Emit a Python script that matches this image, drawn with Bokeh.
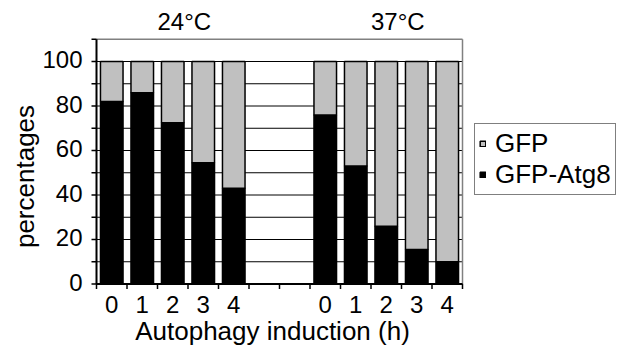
import math
from bokeh.plotting import figure
from bokeh.models import ColumnDataSource, Legend, LegendItem, Range1d
from bokeh.core.properties import value
from bokeh.embed import file_html
from bokeh.resources import INLINE

# ---------------- data ----------------
hours = ["0", "1", "2", "3", "4"]
temps = ["24°C", "37°C"]
atg8_24 = [82, 86, 72.5, 54.5, 43]
atg8_37 = [76, 53, 26, 15.5, 10]
series_names = ["GFP", "GFP-Atg8"]
x_title = "Autophagy induction (h)"
y_title = "percentages"
y_major = [0, 20, 40, 60, 80, 100]
y_minor = [0, 10, 20, 30, 40, 50, 60, 70, 80, 90, 100, 110]
y_grid = [10, 20, 30, 40, 50, 60, 70, 80, 90, 100]
y_max = 110

# ---------------- layout (pixels) ----------------
FONT = value("Liberation Sans")
W, H = 619, 349
PL, PR, PT, PB = 96, 462, 38.75, 283.5
group_start = [0, 7]
n_slots = 12
sw = (PR - PL) / n_slots
yu = (PB - PT) / y_max


def X(px):
    return (px - PL) / sw


def Y(py):
    return (PB - py) / yu


xs, atg8, gfp, xlab = [], [], [], []
for g, vals in enumerate([atg8_24, atg8_37]):
    for i, v in enumerate(vals):
        xs.append(group_start[g] + i + 0.5)
        atg8.append(v)
        gfp.append(100 - v)
        xlab.append(hours[i])

src = ColumnDataSource(dict(x=xs, atg8=atg8, gfp=gfp))

p = figure(width=W, height=H, output_backend="svg", toolbar_location=None,
           x_range=Range1d(X(0), X(W)), y_range=Range1d(Y(H), Y(0)),
           x_axis_type=None, y_axis_type=None, min_border=0)
p.grid.visible = False
p.outline_line_color = None
p.background_fill_color = "white"
p.border_fill_color = "white"

# grid lines
p.segment(x0=[0] * len(y_grid), x1=[n_slots] * len(y_grid), y0=y_grid, y1=y_grid,
          line_color="black", line_width=1)
# grey top / right border of plot area
p.segment(x0=[0, n_slots], x1=[n_slots, n_slots], y0=[y_max, 0], y1=[y_max, y_max],
          line_color="#808080", line_width=1.5)

# bars
rs = p.vbar_stack(["atg8", "gfp"], x="x", width=0.74, color=["black", "#c0c0c0"],
                  line_color="black", line_width=1.5, source=src)

# axis lines
p.segment(x0=[0, 0], x1=[0, n_slots], y0=[0, 0], y1=[y_max, 0],
          line_color="black", line_width=2)

# ticks
tick_len = 5
p.segment(x0=[0] * len(y_minor), x1=[X(PL - tick_len)] * len(y_minor), y0=y_minor, y1=y_minor,
          line_color="black", line_width=1.5)
xb = list(range(0, n_slots + 1))
p.segment(x0=xb, x1=xb, y0=[0] * len(xb), y1=[Y(PB + tick_len)] * len(xb),
          line_color="black", line_width=1.5)

# tick labels
lift = 2 / yu
p.text(x=[X(PL - 14)] * len(y_major), y=[v + lift for v in y_major], text=[str(v) for v in y_major],
       text_align="right", text_baseline="middle", text_font=FONT,
       text_font_size="24px", text_color="black")
p.text(x=xs, y=[Y(304)] * len(xs), text=xlab, text_align="center",
       text_baseline="alphabetic", text_font=FONT, text_font_size="24px", text_color="black")

# group titles
tx = [group_start[g] + 2.5 + 11.5 / sw for g in range(2)]
p.text(x=tx, y=[Y(21)] * 2, text=temps, text_align="center", text_baseline="alphabetic",
       text_font=FONT, text_font_size="24px", text_color="black")

# axis titles
p.text(x=[X(272)], y=[Y(330)], text=[x_title], text_align="center",
       text_baseline="alphabetic", text_font=FONT, text_font_size="26px", text_color="black")
p.text(x=[X(24)], y=[Y(176)], text=[y_title], angle=math.pi / 2, text_align="center",
       text_baseline="middle", text_font=FONT, text_font_size="26px", text_color="black")

# legend
legend = Legend(items=[LegendItem(label=series_names[0], renderers=[rs[1]]),
                       LegendItem(label=series_names[1], renderers=[rs[0]])],
                location=(474, H - 195), orientation="vertical")
legend.glyph_width = 7
legend.glyph_height = 7
legend.label_standoff = 9
legend.padding = 4
legend.spacing = 0
legend.margin = 0
legend.label_height = 30
legend.label_text_font = "Liberation Sans"
legend.label_text_font_size = "26px"
legend.label_text_color = "black"
legend.label_text_baseline = "middle"
legend.border_line_color = "black"
legend.border_line_width = 1.5
legend.background_fill_color = "white"
legend.background_fill_alpha = 1
p.add_layout(legend, "center")

open("out.html", "w").write(file_html(p, INLINE))
